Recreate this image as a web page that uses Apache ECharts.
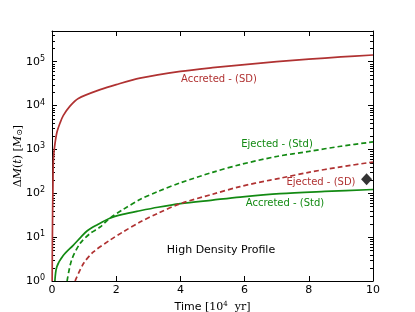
<!DOCTYPE html>
<html><head><meta charset="utf-8">
<script src="https://cdn.jsdelivr.net/npm/echarts@6/dist/echarts.min.js"></script>
<style>html,body{margin:0;padding:0;background:#fff}#c{width:415px;height:312px}</style>
</head><body><div id="c"></div>
<script>
// ---- data (time in 10^4 yr, mass in Msun) ----
const xTicks = [0, 2, 4, 6, 8, 10];
const yMajor = [1, 10, 100, 1000, 10000, 100000];
const accretedSD = [[0.005,1],[0.012,8],[0.02,40],[0.03,150],[0.04,500],[0.07,1000],[0.15,2400],[0.25,4000],[0.35,5900],[0.56,9700],[0.82,14500],[1.5,23000],[2.0,30000],[2.74,42000],[4,60000],[5,73000],[6,86000],[7,100000],[8,114000],[9,128000],[10,142000]];
const accretedStd = [[0.09,1],[0.15,2.1],[0.35,3.8],[0.66,6.5],[0.9,10],[1.1,14],[1.4,19],[1.8,27],[2.2,33],[2.74,40],[3.3,48],[4,58],[5,70],[5.86,82],[7.1,98],[8.5,110],[10,122]];
const ejectedStd = [[0.47,1],[0.61,3],[0.87,7.1],[1.18,12],[1.5,17],[1.8,27],[2.2,42],[2.74,72],[3.3,110],[4,173],[5,300],[5.86,450],[7,690],[8,900],[9,1180],[10,1480]];
const ejectedSD = [[0.72,1],[0.98,2.5],[1.29,4.6],[1.8,8.5],[2.2,13],[2.74,22],[3.3,35],[4,58],[5,95],[5.86,142],[6.8,200],[7.1,220],[8,300],[9,400],[10,515]];
const diamondPoint = [[9.8, 210]];
const labels = ['Accreted - (SD)', 'Ejected - (Std)', 'Ejected - (SD)', 'Accreted - (Std)', 'High Density Profile'];

const RED = '#b03232', GREEN = '#138a13';
const yMax = 5e5;
const minorVals = [];
for (let e = 0; e <= 5; e++) for (let m = 2; m <= 9; m++) { const v = m * Math.pow(10, e); if (v < yMax) minorVals.push(v); }

const chart = echarts.init(document.getElementById('c'));
const sup = {b:{fontSize:11,color:'#000',fontFamily:'DejaVu Sans'}, s:{fontSize:8,color:'#000',fontFamily:'DejaVu Sans',padding:[0,0,6,0]}};
const baseX = {type:'value', min:0, max:10, interval:2, splitLine:{show:false},
  axisLine:{onZero:false,lineStyle:{color:'#000',width:1}},
  axisTick:{inside:true,length:5,lineStyle:{color:'#000'}}};
const baseY = {type:'log', min:1, max:yMax, logBase:10, splitLine:{show:false},
  axisLine:{onZero:false,lineStyle:{color:'#000',width:1}},
  axisTick:{inside:true,length:5,lineStyle:{color:'#000'}}};

const G = {left:52, right:42, top:31, bottom:31};
chart.setOption({
  animation:false,
  grid:{left:G.left,right:G.right,top:G.top,bottom:G.bottom,containLabel:false,outerBoundsMode:'none'},
  xAxis:[
    Object.assign({}, baseX, {position:'bottom',
      axisLabel:{color:'#000',fontSize:11,fontFamily:'DejaVu Sans',margin:4},
      name:'{t|Time }{m|[10}{e|4}{m|  yr]}', nameLocation:'middle', nameGap:17,
      nameTextStyle:{rich:{t:{fontSize:11,fontFamily:'DejaVu Sans',color:'#000'},m:{fontSize:11,fontFamily:'DejaVu Serif',color:'#000'},e:{fontSize:7,fontFamily:'DejaVu Serif',color:'#000',padding:[0,0,6,0]}}}}),
    Object.assign({}, baseX, {position:'top', axisLabel:{show:false}})
  ],
  yAxis:[
    Object.assign({}, baseY, {position:'left',
      axisLabel:{margin:7, formatter:function(v){const e=Math.round(Math.log10(v)); if (Math.abs(Math.pow(10,e)-v)>1e-6*v) return ''; return '{b|10}{s|'+e+'}';}, rich:sup, showMaxLabel:false},
      name:'{a|Δ}{i|M}{a|(}{i|t}{a|) [}{i|M}{u|⊙}{a|]}', nameLocation:'middle', nameGap:28, nameRotate:90, nameMoveOverlap:false,
      nameTextStyle:{rich:{a:{fontSize:11,fontFamily:'DejaVu Serif',color:'#000'},i:{fontSize:11,fontFamily:'DejaVu Serif',fontStyle:'italic',color:'#000'},u:{fontSize:8,fontFamily:'DejaVu Serif',color:'#000',padding:[4,0,0,0]}}}}),
    Object.assign({}, baseY, {position:'right', axisLabel:{show:false}})
  ],
  series:[
    {type:'line', data:accretedSD, showSymbol:false, smooth:0.3, lineStyle:{color:RED,width:1.7}, z:3},
    {type:'line', data:accretedStd, showSymbol:false, smooth:0.3, lineStyle:{color:GREEN,width:1.7}, z:3},
    {type:'line', data:ejectedStd, showSymbol:false, smooth:0.3, lineStyle:{color:GREEN,width:1.7,type:[5,3]}, z:3},
    {type:'line', data:ejectedSD, showSymbol:false, smooth:0.3, lineStyle:{color:RED,width:1.7,type:[5,3]}, z:3},
    {type:'scatter', data:diamondPoint, symbol:'diamond', symbolSize:[11,12], itemStyle:{color:'#000'}, z:4}
  ]
});

// minor log ticks (2..9 x 10^n), positioned through the y axis scale
const xl = chart.convertToPixel({xAxisIndex:0}, 0);
const xr = chart.convertToPixel({xAxisIndex:0}, 10);
const gfx = [];
minorVals.forEach(function(v){
  const py = Math.round(chart.convertToPixel({yAxisIndex:0}, v)) + 0.5;
  gfx.push({type:'line', silent:true, shape:{x1:xl, y1:py, x2:xl+3, y2:py}, style:{stroke:'#000', lineWidth:1}});
  gfx.push({type:'line', silent:true, shape:{x1:xr-3, y1:py, x2:xr, y2:py}, style:{stroke:'#000', lineWidth:1}});
});
const txt = [[219,79,RED,10],[277,144,GREEN,10],[321,182,RED,10],[285,203,GREEN,10],[221,250,'#000',11]];
labels.forEach(function(s,i){
  const t = txt[i];
  gfx.push({type:'text', x:t[0], y:t[1], style:{text:s, fill:t[2], font:t[3]+'px "DejaVu Sans"', align:'center', verticalAlign:'middle'}});
});
chart.setOption({graphic:gfx});
</script></body></html>
